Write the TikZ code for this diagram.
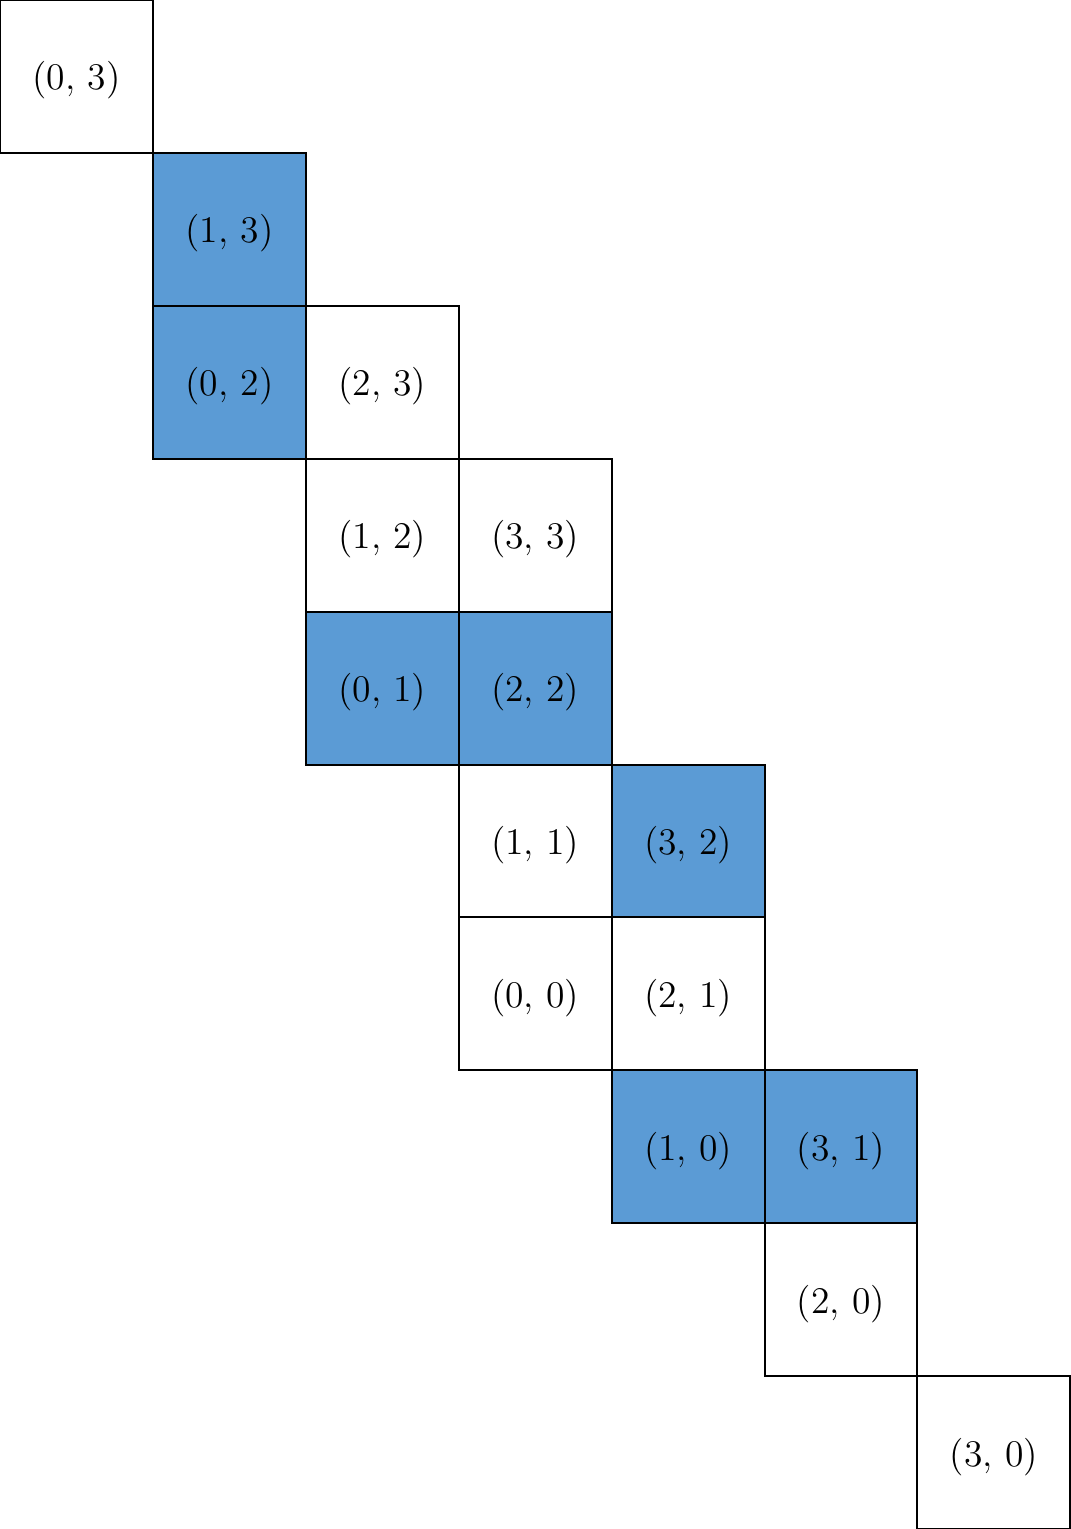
\documentclass[tikz,border=0pt]{standalone}
\definecolor{cellblue}{HTML}{5B9BD5}
\tikzset{
  cell/.style={draw=black, line width=0.75pt, minimum size=2cm, inner sep=0pt, outer sep=0pt, font=\fontsize{14}{16}\selectfont, fill=white, text height=13.5pt, text depth=3.5pt},
  bluecell/.style={cell, fill=cellblue}
}
\begin{document}
\begin{tikzpicture}
\useasboundingbox (0,0) rectangle (14,-20);
% row 0
\node[cell] (c03) at (1,-1) {(0, 3)};
% row 1
\node[bluecell] (c13) at (3,-3) {(1, 3)};
% row 2
\node[bluecell] (c02) at (3,-5) {(0, 2)};
\node[cell] (c23) at (5,-5) {(2, 3)};
% row 3
\node[cell] (c12) at (5,-7) {(1, 2)};
\node[cell] (c33) at (7,-7) {(3, 3)};
% row 4
\node[bluecell] (c01) at (5,-9) {(0, 1)};
\node[bluecell] (c22) at (7,-9) {(2, 2)};
% row 5
\node[cell] (c11) at (7,-11) {(1, 1)};
\node[bluecell] (c32) at (9,-11) {(3, 2)};
% row 6
\node[cell] (c00) at (7,-13) {(0, 0)};
\node[cell] (c21) at (9,-13) {(2, 1)};
% row 7
\node[bluecell] (c10) at (9,-15) {(1, 0)};
\node[bluecell] (c31) at (11,-15) {(3, 1)};
% row 8
\node[cell] (c20) at (11,-17) {(2, 0)};
% row 9
\node[cell] (c30) at (13,-19) {(3, 0)};
\end{tikzpicture}
\end{document}
